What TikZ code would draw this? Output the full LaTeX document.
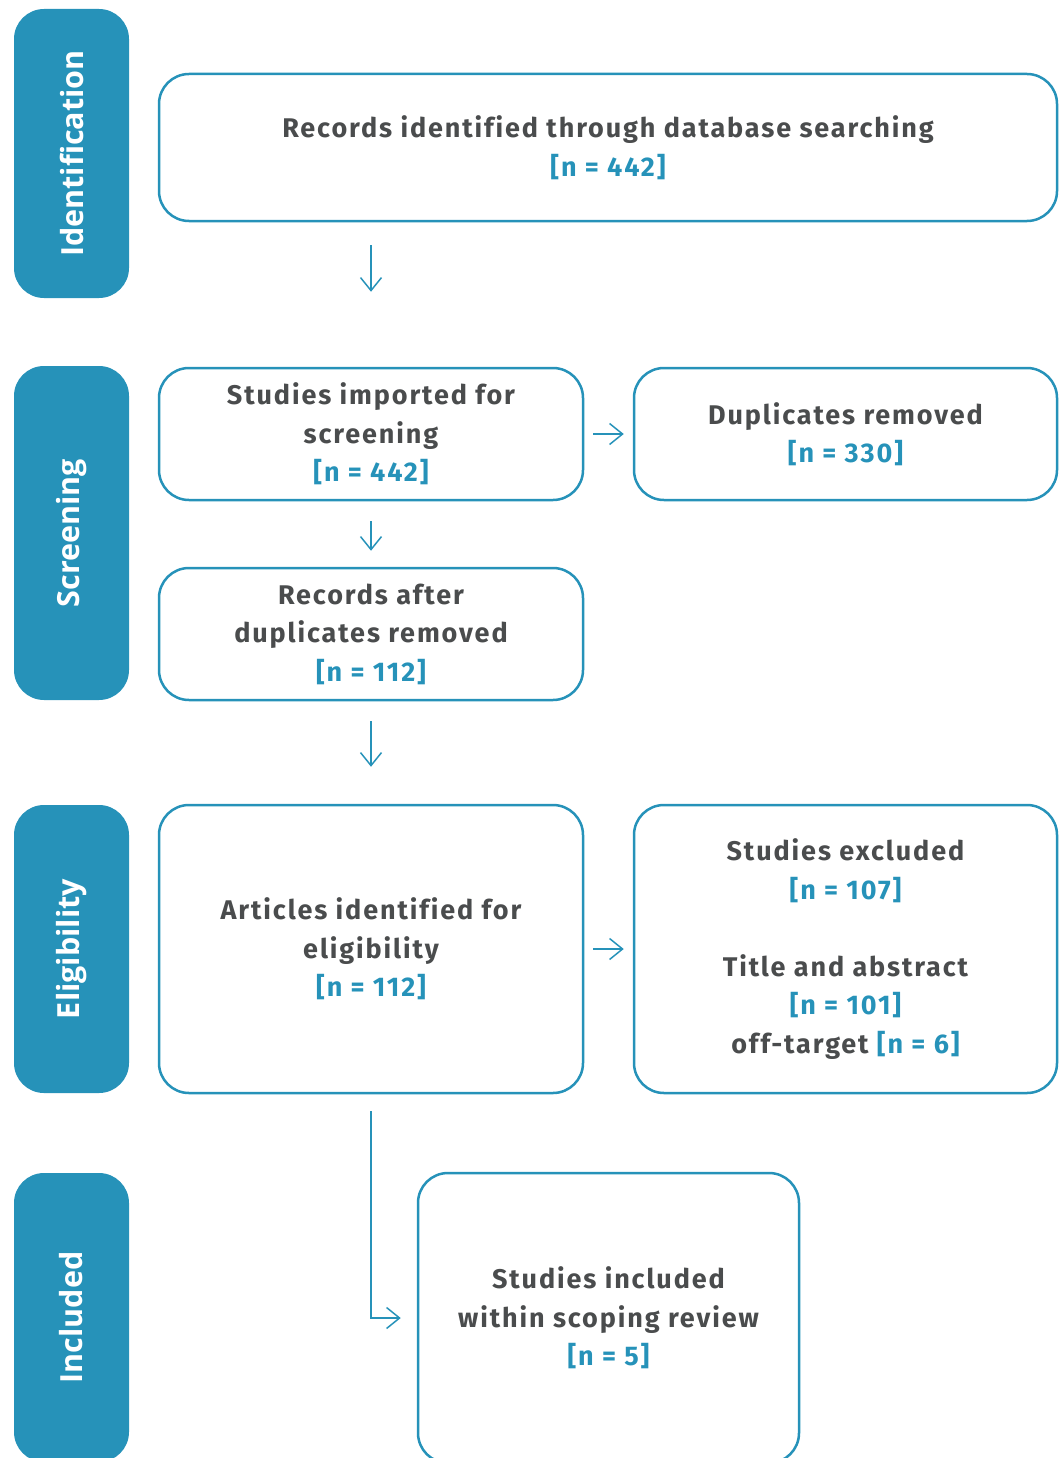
\documentclass[tikz,border=0pt]{standalone}
\usepackage{fontspec}
\setmainfont{Fira Sans}[LetterSpace=7,Ligatures=NoCommon]
\newfontfamily\sidefont{Open Sans}
\usetikzlibrary{arrows.meta}
\definecolor{teal}{RGB}{38,146,185}
\definecolor{txt}{RGB}{74,76,77}
\tikzset{
  box/.style={draw=teal, line width=2.5pt, rounded corners=30pt, align=center,
    font=\bfseries\fontsize{27}{38.5}\selectfont, text=txt, inner sep=0pt},
  side/.style={fill=teal, rounded corners=30pt, minimum width=115pt, inner sep=0pt,
    font=\sidefont\bfseries\fontsize{30.5}{30.5}\selectfont, text=white},
  arr/.style={draw=teal, line width=1.5pt, -{Straight Barb[length=13pt,width=21pt,line width=1.5pt]}},
}
\newcommand{\num}[1]{\textcolor{teal}{#1}}
\begin{document}
\begin{tikzpicture}[x=1pt,y=-1pt]
\useasboundingbox (0,0) rectangle (1062,1458);
% side bars
\node[side, minimum height=289pt] (s1) at (71.5,153.5) {\rotatebox{90}{Identification}};
\node[side, minimum height=334pt] (s2) at (71.5,533) {\rotatebox{90}{Screening}};
\node[side, minimum height=288pt] (s3) at (71.5,949) {\rotatebox{90}{Eligibility}};
\node[side, minimum height=289pt] (s4) at (71.5,1317.5) {\rotatebox{90}{Included}};
% boxes
\node[box, minimum width=898pt, minimum height=147pt] (b1) at (608,147.5)
  {Records identified through database searching\\ \num{[n = 442]}};
\node[box, minimum width=424pt, minimum height=132pt] (b2) at (371,434)
  {Studies imported for\\ screening\\ \num{[n = 442]}};
\node[box, minimum width=423pt, minimum height=132pt] (b3) at (845.5,434)
  {Duplicates removed\\ \num{[n = 330]}};
\node[box, minimum width=424pt, minimum height=132pt] (b4) at (371,634)
  {Records after\\ duplicates removed\\ \num{[n = 112]}};
\node[box, minimum width=424pt, minimum height=288pt] (b5) at (371,949)
  {Articles identified for\\ eligibility\\ \num{[n = 112]}};
\node[box, minimum width=423pt, minimum height=288pt] (b6) at (845.5,949)
  {Studies excluded\\ \num{[n = 107]}\\[38.5pt] Title and abstract\\ \num{[n = 101]}\\ off-target \num{[n = 6]}};
\node[box, minimum width=381pt, minimum height=290pt] (b7) at (608.5,1318)
  {Studies included\\ within scoping review\\ \num{[n = 5]}};
% connectors
\draw[arr, shorten <=23pt, shorten >=75pt] (b1.south -| b2.north) -- (b2.north);
\draw[arr, shorten <=9pt, shorten >=9pt] (b2.east) -- (b3.west);
\draw[arr, shorten <=20pt, shorten >=16pt] (b2.south) -- (b4.north);
\draw[arr, shorten <=20pt, shorten >=37pt] (b4.south) -- (b5.north);
\draw[arr, shorten <=9pt, shorten >=9pt] (b5.east) -- (b6.west);
\draw[arr, shorten <=17pt, shorten >=16pt] (b5.south) |- (b7.west);
\end{tikzpicture}
\end{document}
